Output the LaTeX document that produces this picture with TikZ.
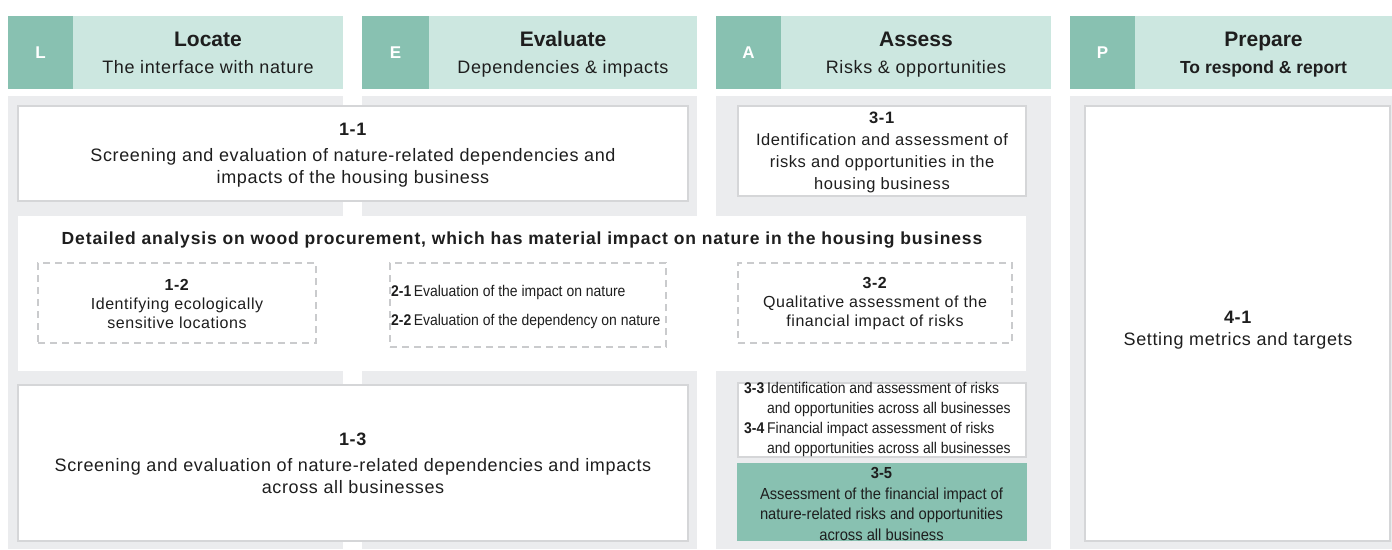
\documentclass[tikz,border=0pt]{standalone}
\usepackage{fontspec}
\setmainfont{Liberation Sans}
\newfontfamily\bodyf[LetterSpace=3.5]{Liberation Sans}
\newfontfamily\headf[LetterSpace=5]{Liberation Sans}
\newfontfamily\condb[FakeStretch=0.92]{Liberation Sans}
\newfontfamily\condn[FakeStretch=0.9]{Liberation Sans}
\definecolor{tealdark}{HTML}{88C1B1}
\definecolor{teallight}{HTML}{CCE7E0}
\definecolor{colgray}{HTML}{EBECEE}
\definecolor{boxline}{HTML}{D5D6D8}
\definecolor{dashline}{HTML}{CACBCD}
\definecolor{txt}{HTML}{1E1E1E}
\tikzset{
  colbg/.style={fill=colgray, draw=none, inner sep=0pt, outer sep=0pt},
  hdark/.style={fill=tealdark, draw=none, inner sep=0pt, outer sep=0pt, text=white, font=\fontsize{17}{20}\selectfont\bfseries},
  hlight/.style={fill=teallight, draw=none, inner sep=0pt, outer sep=0pt},
  htitle/.style={inner sep=0pt, text=txt, font=\fontsize{21}{24}\selectfont\bfseries},
  hsub/.style={inner sep=0pt, text=txt, font=\bodyf\fontsize{18}{20}\selectfont},
  wbox/.style={fill=white, draw=boxline, line width=1.5pt, inner sep=0pt, outer sep=0pt},
  gbox/.style={fill=tealdark, draw=none, inner sep=0pt, outer sep=0pt},
  dbox/.style={fill=white, draw=dashline, line width=1.3pt, dash pattern=on 7pt off 5pt, inner sep=0pt, outer sep=0pt},
  band/.style={fill=white, draw=none, inner sep=0pt, outer sep=0pt},
  body/.style={inner sep=0pt, align=center, text=txt, font=\bodyf\fontsize{18}{22}\selectfont},
  small/.style={inner sep=0pt, align=center, text=txt, font=\bodyf\fontsize{16}{19}\selectfont},
  narrow/.style={inner sep=0pt, anchor=base west, text=txt, font=\condn\fontsize{15.5}{17}\selectfont},
  num/.style={inner sep=0pt, anchor=base west, text=txt, font=\condn\fontsize{15.5}{17}\selectfont\bfseries},
}
\begin{document}
\begin{tikzpicture}[x=1pt,y=-1pt]
\useasboundingbox[fill=white] (0,0) rectangle (1392,549);

% column backgrounds
\node[colbg, minimum width=335pt, minimum height=453pt] (cL) at (175.5,322.5) {};
\node[colbg, minimum width=335pt, minimum height=453pt] (cE) at (529.5,322.5) {};
\node[colbg, minimum width=335pt, minimum height=453pt] (cA) at (883.5,322.5) {};
\node[colbg, minimum width=322pt, minimum height=453pt] (cP) at (1231,322.5) {};

% headers
\node[hdark, minimum width=65pt, minimum height=73pt] (hLd) at (40.5,52.5) {L};
\node[hlight, minimum width=270pt, minimum height=73pt] (hLl) at (208,52.5) {};
\node[hdark, minimum width=67pt, minimum height=73pt] (hEd) at (395.5,52.5) {E};
\node[hlight, minimum width=268pt, minimum height=73pt] (hEl) at (563,52.5) {};
\node[hdark, minimum width=65pt, minimum height=73pt] (hAd) at (748.5,52.5) {A};
\node[hlight, minimum width=270pt, minimum height=73pt] (hAl) at (916,52.5) {};
\node[hdark, minimum width=65pt, minimum height=73pt] (hPd) at (1102.5,52.5) {P};
\node[hlight, minimum width=257pt, minimum height=73pt] (hPl) at (1263.5,52.5) {};

\node[htitle, anchor=base] (tL) at (208,46) {Locate};
\node[hsub, anchor=base] (sL) at (208,73) {The interface with nature};
\node[htitle, anchor=base] (tE) at (563,46) {Evaluate};
\node[hsub, anchor=base] (sE) at (563,73) {Dependencies \& impacts};
\node[htitle, anchor=base] (tA) at (916,46) {Assess};
\node[hsub, anchor=base] (sA) at (916,73) {Risks \& opportunities};
\node[htitle, anchor=base] (tP) at (1263.5,46) {Prepare};
\node[hsub, anchor=base, font=\fontsize{17.5}{20}\selectfont\bfseries] (sP) at (1263.5,73) {To respond \& report};

% 1-1
\node[wbox, minimum width=670pt, minimum height=95pt] (b11) at (353,153.5) {};
\node[body] (t11) at ([yshift=-2pt]b11.center) {\textbf{1-1}\\[4pt]Screening and evaluation of nature-related dependencies and\\impacts of the housing business};

% 3-1
\node[wbox, minimum width=288pt, minimum height=90pt] (b31) at (882,151) {};
\node[body, font=\bodyf\fontsize{16.5}{22}\selectfont] (t31) at ([yshift=-1pt]b31.center) {\textbf{3-1}\\Identification and assessment of\\risks and opportunities in the\\housing business};

% detailed band
\node[band, minimum width=1008pt, minimum height=155pt] (bd) at (522,293.5) {};
\node[inner sep=0pt, text=txt, font=\headf\fontsize{17.5}{20}\selectfont\bfseries, anchor=base] (td) at (522,244) {Detailed analysis on wood procurement, which has material impact on nature in the housing business};

% 1-2
\node[dbox, minimum width=278pt, minimum height=80pt] (b12) at (177,303) {};
\node[small] (t12) at ([yshift=-1pt]b12.center) {\textbf{1-2}\\Identifying ecologically\\sensitive locations};

% 2-1 / 2-2
\node[dbox, minimum width=276pt, minimum height=84pt] (b22) at (528,305) {};
\node[num] (n21) at (391,296) {2-1};
\node[narrow, anchor=base west] (t21) at ([xshift=2pt]n21.base east) {Evaluation of the impact on nature};
\node[num] (n22) at (391,325) {2-2};
\node[narrow, anchor=base west] (t22) at ([xshift=2pt]n22.base east) {Evaluation of the dependency on nature};

% 3-2
\node[dbox, minimum width=274pt, minimum height=80pt] (b32) at (875,303) {};
\node[small] (t32) at ([yshift=-1pt]b32.center) {\textbf{3-2}\\Qualitative assessment of the\\financial impact of risks};

% 1-3
\node[wbox, minimum width=670pt, minimum height=156pt] (b13) at (353,463) {};
\node[body] (t13) at (b13.center) {\textbf{1-3}\\[4pt]Screening and evaluation of nature-related dependencies and impacts\\across all businesses};

% 3-3 / 3-4
\node[wbox, minimum width=288pt, minimum height=74pt] (b34) at (882,420) {};
\node[num] (n33) at (744,393) {3-3};
\node[narrow] (t33a) at (767,393) {Identification and assessment of risks};
\node[narrow] (t33b) at (767,413) {and opportunities across all businesses};
\node[num] (n34) at (744,433) {3-4};
\node[narrow] (t34a) at (767,433) {Financial impact assessment of risks};
\node[narrow] (t34b) at (767,453) {and opportunities across all businesses};

% 3-5
\node[gbox, minimum width=290pt, minimum height=78pt] (b35) at (881.5,502) {};
\node[body, font=\condb\fontsize{16}{20.5}\selectfont] (t35) at ([yshift=-2pt]b35.center) {\textbf{3-5}\\Assessment of the financial impact of\\nature-related risks and opportunities\\across all business};

% 4-1
\node[wbox, minimum width=305pt, minimum height=435pt] (b41) at (1237.5,323.5) {};
\node[body] (t41) at (1238,330) {\textbf{4-1}\\Setting metrics and targets};
\end{tikzpicture}
\end{document}
